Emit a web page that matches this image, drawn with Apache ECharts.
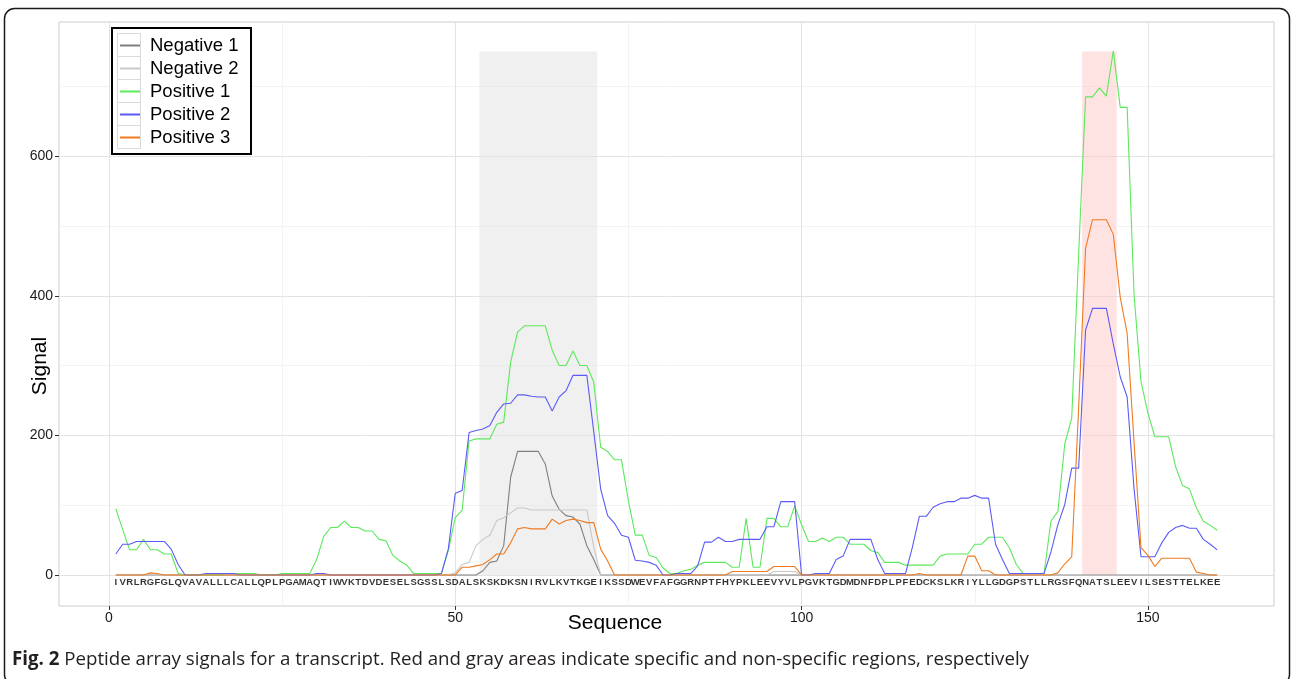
<!DOCTYPE html>
<html><head><meta charset="utf-8">
<script src="https://cdn.jsdelivr.net/npm/echarts@6.0.0/dist/echarts.min.js"></script>
<style>html,body{margin:0;padding:0;background:#fff}#chart{width:1292px;height:679px}</style>
</head><body><div id="chart"></div>
<script>
// Peptide sequence: one residue per x position (1..160)
const sequence = "IVRLRGFGLQVAVALLLCALLQPLPGAMAQTIWVKTDVDESELSGSSLSDALSKSKDKSNIRVLKVTKGEIKSSDWEVFAFGGRNPTFHYPKLEEVYVLPGVKTGDMDNFDPLPFEDCKSLKRIYLLGDGPSTLLRGSFQNATSLEEVILSESTTELKEE".split('');

const seriesNames = ['Negative 1', 'Negative 2', 'Positive 1', 'Positive 2', 'Positive 3'];

const negative1 = [
  0,0,0,0,0,0,0,0,0,0,
  0,0,0,0,0,0,0,0,0,0,
  0,0,0,0,0,0,0,0,0,0,
  0,0,0,0,0,0,0,0,0,0,
  0,0,0,0,0,0,0,0,0,0,
  0,0,0,6,18,20,42,140,177,177,
  177,177,159,113,94,85,83,73,42,22,
  0,0,0,0,0,0,0,0,0,0,
  0,0,0,0,0,0,0,0,0,0,
  0,0,0,0,0,0,0,0,0,0,
  0,0,0,0,0,0,0,0,0,0,
  0,0,0,0,0,0,0,0,0,0,
  0,0,0,0,0,0,0,0,0,0,
  0,0,0,0,0,0,0,0,0,0,
  0,0,0,0,0,0,0,0,0,0,
  0,0,0,0,0,0,0,0,0,0
];
const negative2 = [
  0,0,0,0,0,0,0,0,0,0,
  0,0,0,0,0,0,0,0,0,0,
  0,0,0,0,0,0,0,0,0,0,
  0,0,0,0,0,0,0,0,0,0,
  0,0,0,0,0,0,0,0,0,3,
  15,18,42,51,57,78,82,89,96,96,
  93,93,93,93,93,93,93,93,93,40,
  0,0,0,0,0,0,0,0,0,0,
  0,0,0,0,0,0,0,0,0,0,
  0,0,0,0,0,5,5,5,5,0,
  0,0,0,0,0,0,0,0,0,0,
  0,0,0,0,0,0,0,0,0,0,
  0,0,0,0,0,0,0,0,0,0,
  0,0,0,0,0,0,0,0,0,0,
  0,0,0,0,0,0,0,0,0,0,
  0,0,0,0,0,0,0,0,0,0
];
const positive1 = [
  95,65,36,36,51,36,36,30,30,2,
  0,0,0,0,0,0,2,2,2,2,
  2,0,0,0,2,2,2,2,2,22,
  55,68,68,77,68,68,63,63,51,49,
  28,20,14,2,2,2,2,2,35,82,
  93,192,195,195,195,216,219,305,348,357,
  357,357,357,322,300,300,321,300,300,276,
  183,177,165,165,106,57,57,28,25,10,
  2,2,6,8,14,18,18,18,18,11,
  11,81,11,11,81,81,69,69,99,72,
  48,48,53,48,54,54,44,44,44,35,
  32,18,18,18,14,14,14,14,14,27,
  30,30,30,30,44,44,54,54,54,39,
  15,2,2,2,2,77,91,188,225,460,
  685,685,698,686,751,670,670,401,277,232,
  198,198,198,155,128,123,96,77,71,64
];
const positive2 = [
  30,44,44,48,48,48,48,48,37,15,
  0,0,0,2,2,2,2,2,0,0,
  0,0,0,0,0,0,0,0,0,2,
  2,0,0,0,0,0,0,0,0,0,
  0,0,0,0,0,0,0,2,37,117,
  121,204,207,209,214,233,245,246,258,258,
  256,255,255,235,255,264,286,286,286,205,
  123,85,74,57,54,21,20,18,14,0,
  0,2,2,2,13,47,47,54,48,48,
  51,51,51,51,69,69,105,105,105,0,
  0,2,2,2,22,27,51,51,51,51,
  22,2,2,2,2,40,84,84,97,102,
  105,105,110,110,114,110,110,44,22,2,
  2,2,2,2,2,33,72,101,153,153,
  351,382,382,382,331,284,255,123,26,26,
  26,46,61,68,71,67,67,51,44,36
];
const positive3 = [
  0,0,0,0,0,3,2,0,0,0,
  0,0,0,0,0,0,0,0,0,0,
  0,0,0,0,0,0,0,0,0,0,
  0,0,0,0,0,0,0,0,0,0,
  0,0,0,0,0,0,0,0,0,0,
  11,11,13,15,22,30,30,46,66,68,
  66,66,66,80,73,78,80,78,75,75,
  37,20,0,0,0,0,0,0,0,0,
  0,0,0,0,0,0,0,0,0,5,
  5,5,5,5,5,12,12,12,12,0,
  0,0,0,0,0,0,0,0,0,0,
  0,0,0,0,0,0,2,0,0,0,
  0,0,0,27,27,6,6,0,0,0,
  0,0,0,0,0,0,3,16,26,240,
  468,509,509,509,488,398,346,190,39,28,
  12,24,24,24,24,24,4,2,0,0
];

const xTicks = [0, 50, 100, 150];
const xMinorTicks = [25, 75, 125];
const yTicks = [0, 200, 400, 600];
const yMinorTicks = [100, 300, 500, 700];
const nonSpecificRegion = [53.5, 70.5];
const specificRegion = [140.5, 145.5];
const regionTop = 750;
const letterLevel = -10;

const colors = ['#7f7f7f', '#c8c8c8', '#5ce85c', '#5b5bf7', '#ef7a1f'];
const values = [negative1, negative2, positive1, positive2, positive3];

const chart = echarts.init(document.getElementById('chart'));
const toXY = arr => arr.map((v, i) => [i + 1, v]);

const majorGrid = { color: '#e3e3e3', width: 1, type: 'solid' };
const minorGrid = { color: '#f3f3f3', width: 1, type: 'solid' };

const lineSeries = seriesNames.map((name, k) => ({
  name: name,
  type: 'line',
  data: toXY(values[k]),
  showSymbol: false,
  symbol: 'none',
  color: colors[k],
  lineStyle: { width: 1.1, color: colors[k] },
  emphasis: { disabled: true },
  silent: true,
  z: 3 + k * 0.01
}));

const legendBoxY = 34;
const legendRow = 23;
const graphics = [
  { type: 'rect', shape: { x: 4.5, y: 8.5, width: 1285, height: 676, r: 10 },
    style: { fill: 'none', stroke: '#1a1a1a', lineWidth: 1.5 }, z: 10, silent: true },
  { type: 'rect', shape: { x: 112, y: 28, width: 139, height: 126 },
    style: { fill: '#fff', stroke: '#000', lineWidth: 2 }, z: 6, silent: true },
  { type: 'text', x: 40, y: 366, rotation: Math.PI / 2,
    style: { text: 'Signal', fontSize: 21, fontFamily: 'Liberation Sans', fill: '#000', align: 'center', verticalAlign: 'middle' }, z: 10 },
  { type: 'text', x: 615, y: 623,
    style: { text: 'Sequence', fontSize: 21, fontFamily: 'Liberation Sans', fill: '#000', align: 'center', verticalAlign: 'middle' }, z: 10 },
  { type: 'text', x: 12, y: 660,
    style: { text: '{b|Fig. 2} Peptide array signals for a transcript. Red and gray areas indicate specific and non-specific regions, respectively',
      fontSize: 18.7, fontFamily: 'Open Sans', fill: '#231f20', verticalAlign: 'middle',
      rich: { b: { fontSize: 18.7, fontFamily: 'Open Sans', fontWeight: 'bold', fill: '#231f20' } } }, z: 10 }
];
seriesNames.forEach((n, k) => {
  graphics.push({ type: 'rect', shape: { x: 117.5, y: legendBoxY + k * legendRow - 0.5, width: 23, height: legendRow },
    style: { fill: '#fff', stroke: '#dadada', lineWidth: 1 }, z: 6.5, silent: true });
});

const option = {
  animation: false,
  backgroundColor: '#fff',
  grid: { left: 59, right: 18, top: 22, bottom: 73, show: true, borderColor: '#cdcdcd', borderWidth: 1, backgroundColor: '#fff' },
  xAxis: {
    type: 'value', min: -7.2, max: 168.2,
    splitLine: { show: false },
    axisLine: { show: false, onZero: false },
    axisTick: { show: true, customValues: xTicks, length: 4, lineStyle: { color: '#333' } },
    axisLabel: { customValues: xTicks, margin: 5, fontSize: 14, color: '#1a1a1a', fontFamily: 'Liberation Sans' }
  },
  yAxis: {
    type: 'value', min: -44.5, max: 792.3,
    splitLine: { show: false },
    axisLine: { show: false, onZero: false },
    axisTick: { show: true, customValues: yTicks, length: 4, lineStyle: { color: '#333' } },
    axisLabel: { customValues: yTicks, margin: 6, fontSize: 14, color: '#1a1a1a', fontFamily: 'Liberation Sans' }
  },
  legend: {
    data: seriesNames, orient: 'vertical', left: 120, top: legendBoxY,
    itemWidth: 20, itemHeight: 2, itemGap: 0, icon: 'rect', padding: 0,
    selectedMode: false, z: 8,
    textStyle: { fontSize: 18.5, lineHeight: legendRow, color: '#000', fontFamily: 'Liberation Sans', padding: [0, 0, 0, 5] }
  },
  graphic: graphics,
  series: [
    {
      name: 'gridlines', type: 'line', data: [[0, 0]], showSymbol: false, symbol: 'none',
      lineStyle: { opacity: 0 }, silent: true, z: 1,
      markLine: {
        silent: true, symbol: ['none', 'none'], label: { show: false }, animation: false, z: 1,
        lineStyle: majorGrid,
        data: [
          ...xMinorTicks.map(v => ({ xAxis: v, lineStyle: minorGrid })),
          ...yMinorTicks.map(v => ({ yAxis: v, lineStyle: minorGrid })),
          ...xTicks.map(v => ({ xAxis: v, lineStyle: majorGrid })),
          ...yTicks.map(v => ({ yAxis: v, lineStyle: majorGrid }))
        ]
      }
    },
    {
      name: 'regions', type: 'line', data: [[0, 0]], showSymbol: false, symbol: 'none',
      lineStyle: { opacity: 0 }, silent: true, z: 2,
      markArea: {
        silent: true, animation: false, z: 2,
        data: [
          [{ xAxis: nonSpecificRegion[0], yAxis: 0, itemStyle: { color: 'rgba(225,225,225,0.5)' } }, { xAxis: nonSpecificRegion[1], yAxis: regionTop }],
          [{ xAxis: specificRegion[0], yAxis: 0, itemStyle: { color: 'rgba(255,200,200,0.5)' } }, { xAxis: specificRegion[1], yAxis: regionTop }]
        ]
      }
    },
    ...lineSeries,
    {
      name: 'sequence', type: 'scatter', silent: true, z: 5,
      data: sequence.map((c, i) => [i + 1, letterLevel, c]),
      symbolSize: 1, itemStyle: { color: 'rgba(0,0,0,0)' },
      label: { show: true, position: 'inside', formatter: p => p.value[2], fontSize: 9.5, fontWeight: 'bold', color: '#000', fontFamily: 'Liberation Sans' },
      emphasis: { disabled: true }
    }
  ]
};
chart.setOption(option);
</script>
</body></html>
